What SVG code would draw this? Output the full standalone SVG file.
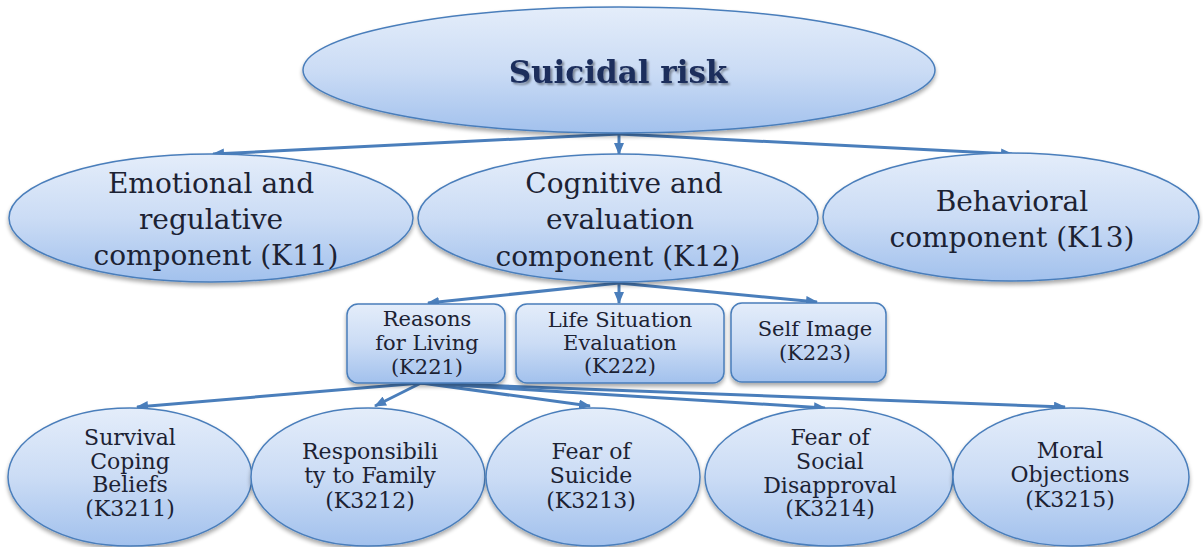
<svg xmlns="http://www.w3.org/2000/svg" width="1203" height="547" viewBox="0 0 1203 547">
<defs>
<linearGradient id="g" x1="0" y1="0" x2="0" y2="1">
<stop offset="0" stop-color="#e4edfa"/>
<stop offset="0.5" stop-color="#cbdcf5"/>
<stop offset="1" stop-color="#a2c1ed"/>
</linearGradient>
<filter id="sh" x="-10%" y="-10%" width="120%" height="130%">
<feGaussianBlur in="SourceAlpha" stdDeviation="2"/>
<feOffset dx="0" dy="3" result="b"/>
<feComponentTransfer><feFuncA type="linear" slope="0.35"/></feComponentTransfer>
<feMerge><feMergeNode/><feMergeNode in="SourceGraphic"/></feMerge>
</filter>
<filter id="tsh" x="-5%" y="-20%" width="110%" height="150%">
<feGaussianBlur in="SourceAlpha" stdDeviation="1.2"/>
<feOffset dx="1.5" dy="1.5"/>
<feComponentTransfer><feFuncA type="linear" slope="0.4"/></feComponentTransfer>
<feMerge><feMergeNode/><feMergeNode in="SourceGraphic"/></feMerge>
</filter>
<marker id="ah" viewBox="0 0 12 10" refX="11" refY="5" markerWidth="12" markerHeight="10" markerUnits="userSpaceOnUse" orient="auto">
<path d="M0,0 L12,5 L0,10 z" fill="#4a7ebb"/>
</marker>
</defs>
<style>
.n{fill:url(#g);stroke:#4a7ebb;stroke-width:1.5;filter:url(#sh)}
text{font-family:'DejaVu Serif','Liberation Serif',serif;fill:#1c2233;text-anchor:middle}
.t2{font-size:28px}
.t3{font-size:21px}
.t4{font-size:22px}
.c{stroke:#4a7ebb;stroke-width:3;fill:none;marker-end:url(#ah)}
</style>
<rect width="1203" height="547" fill="#ffffff"/>
<g id="connectors">
<line class="c" x1="619" y1="134" x2="213" y2="154"/>
<line class="c" x1="619" y1="134" x2="619" y2="154"/>
<line class="c" x1="619" y1="134" x2="1012" y2="154"/>
<line class="c" x1="619" y1="283" x2="428" y2="303"/>
<line class="c" x1="619" y1="283" x2="619" y2="303"/>
<line class="c" x1="619" y1="283" x2="817" y2="302"/>
<line class="c" x1="421" y1="383" x2="137" y2="407"/>
<line class="c" x1="421" y1="383" x2="375" y2="406"/>
<line class="c" x1="421" y1="383" x2="590" y2="406"/>
<line class="c" x1="421" y1="383" x2="825" y2="408"/>
<line class="c" x1="421" y1="383" x2="1065" y2="407"/>
</g>
<g id="suicidal-risk">
<ellipse class="n" cx="619" cy="70" rx="316" ry="63"/>
<text x="618" y="83" font-weight="bold" font-size="31" fill="#1c2d5c" style="fill:#1c2d5c" filter="url(#tsh)">Suicidal risk</text>
</g>
<g id="k11">
<ellipse class="n" cx="211" cy="218" rx="202" ry="64"/>
<text class="t2" x="211" y="193">Emotional and</text>
<text class="t2" x="211" y="229">regulative</text>
<text class="t2" x="216" y="265">component (K11)</text>
</g>
<g id="k12">
<ellipse class="n" cx="618" cy="218" rx="200" ry="64"/>
<text class="t2" x="624" y="193">Cognitive and</text>
<text class="t2" x="620" y="229">evaluation</text>
<text class="t2" x="618" y="266">component (K12)</text>
</g>
<g id="k13">
<ellipse class="n" cx="1011" cy="217" rx="188" ry="64"/>
<text class="t2" x="1012" y="211">Behavioral</text>
<text class="t2" x="1012" y="247">component (K13)</text>
</g>
<g id="k221">
<rect class="n" x="347" y="304" width="158" height="79" rx="11"/>
<text class="t3" x="427" y="326">Reasons</text>
<text class="t3" x="427" y="350">for Living</text>
<text class="t3" x="427" y="374">(K221)</text>
</g>
<g id="k222">
<rect class="n" x="516" y="304" width="208" height="79" rx="11"/>
<text class="t3" x="620" y="327">Life Situation</text>
<text class="t3" x="620" y="350">Evaluation</text>
<text class="t3" x="620" y="373">(K222)</text>
</g>
<g id="k223">
<rect class="n" x="731" y="303" width="155" height="79" rx="11"/>
<text class="t3" x="815" y="336">Self Image</text>
<text class="t3" x="815" y="360">(K223)</text>
</g>
<g id="k3211">
<ellipse class="n" cx="130" cy="477" rx="122" ry="69"/>
<text class="t4" x="130" y="445">Survival</text>
<text class="t4" x="130" y="469">Coping</text>
<text class="t4" x="130" y="492">Beliefs</text>
<text class="t4" x="130" y="516">(K3211)</text>
</g>
<g id="k3212">
<ellipse class="n" cx="368" cy="477" rx="117" ry="69"/>
<text class="t4" x="370" y="459">Responsibili</text>
<text class="t4" x="370" y="483">ty to Family</text>
<text class="t4" x="370" y="508">(K3212)</text>
</g>
<g id="k3213">
<ellipse class="n" cx="593" cy="477" rx="107" ry="69"/>
<text class="t4" x="591" y="459">Fear of</text>
<text class="t4" x="591" y="483">Suicide</text>
<text class="t4" x="591" y="508">(K3213)</text>
</g>
<g id="k3214">
<ellipse class="n" cx="829" cy="477" rx="124" ry="69"/>
<text class="t4" x="830" y="445">Fear of</text>
<text class="t4" x="830" y="469">Social</text>
<text class="t4" x="830" y="493">Disapproval</text>
<text class="t4" x="830" y="516">(K3214)</text>
</g>
<g id="k3215">
<ellipse class="n" cx="1071" cy="477" rx="118" ry="69"/>
<text class="t4" x="1070" y="458">Moral</text>
<text class="t4" x="1070" y="482">Objections</text>
<text class="t4" x="1070" y="507">(K3215)</text>
</g>
</svg>
